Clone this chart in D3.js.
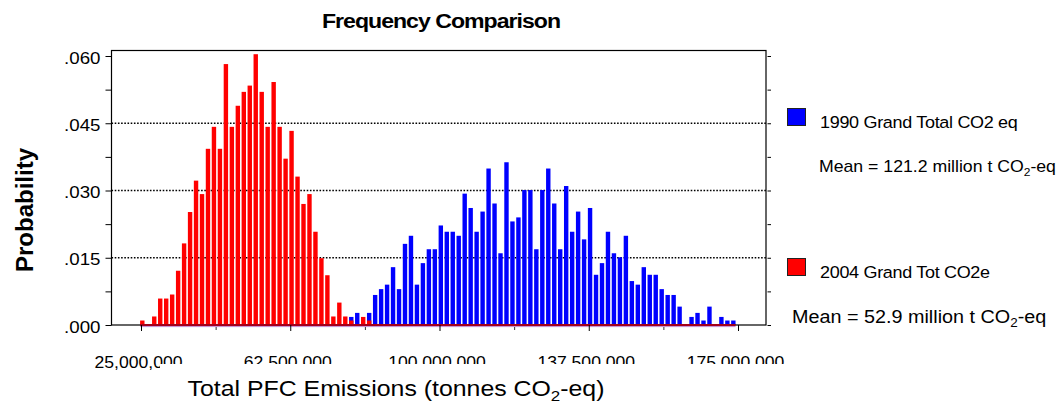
<!DOCTYPE html>
<html>
<head>
<meta charset="utf-8">
<script src="https://cdn.jsdelivr.net/npm/d3@7"></script>
<style>
  body { margin: 0; background: #fff; }
  svg { display: block; font-family: "Liberation Sans", Arial, sans-serif; }
</style>
</head>
<body>
<svg id="chart" width="1063" height="403"></svg>
<script>
// Histogram bins (tonnes CO2-eq): first bin centre and bin width
const binFirst = 25.33e6;
const binStep = 1.5e6;
const binCount = 100;

// 2004 Grand Tot CO2e — probability per bin, starting at bin 0
const red2004Start = 0;
const red2004 = [
  0.001, 0, 0.0019, 0.0059, 0.0059, 0.0068, 0.0121, 0.0182, 0.0252, 0.0322,
  0.0292, 0.0393, 0.0442, 0.0393, 0.0582, 0.0442, 0.0489, 0.052, 0.0534, 0.0604,
  0.052, 0.0442, 0.0542, 0.0442, 0.0371, 0.0433, 0.0331, 0.027, 0.0292, 0.0208,
  0.0149, 0.0111, 0.0019, 0.005, 0.0019, 0.001, 0, 0.0018, 0.001
];

// 1990 Grand Total CO2 eq — probability per bin, starting at bin 35
const blue1990Start = 35;
const blue1990 = [
  0.0018, 0.0027, 0, 0.0027, 0.0067, 0.008, 0.009, 0.0129, 0.008, 0.0181,
  0.0199, 0.009, 0.0138, 0.0169, 0.0169, 0.0222, 0.0208, 0.0208, 0.0199, 0.0293,
  0.0261, 0.0208, 0.0253, 0.0349, 0.0271, 0.016, 0.0363, 0.0231, 0.024, 0.0301,
  0.0301, 0.0169, 0.0301, 0.0349, 0.0271, 0.0169, 0.031, 0.0208, 0.0253, 0.0191,
  0.0261, 0.0112, 0.0138, 0.0208, 0.016, 0.0151, 0.0199, 0.0098, 0.009, 0.0129,
  0.0112, 0.0112, 0.008, 0.0067, 0.0067, 0.0041, 0, 0.0018, 0.0027, 0.001,
  0.0041, 0, 0.0018, 0.001, 0.001
];

const xMajorTicks = [25e6, 62.5e6, 100e6, 137.5e6, 175e6];
const xMinorTicks = [43.75e6, 81.25e6, 118.75e6, 156.25e6];
const yMajorTicks = [0, 0.015, 0.03, 0.045, 0.06];
const yMinorTicks = [0.0075, 0.0225, 0.0375, 0.0525];
const gridValues = [0.015, 0.03, 0.045];

const legendNames = ["1990 Grand Total CO2 eq", "2004 Grand Tot CO2e"];
const legendMeans = ["121.2", "52.9"];
const legendColors = ["#0000ff", "#ff0000"];

const svg = d3.select("#chart");

// plot frame
const plotLeft = 111.5, plotRight = 766, plotTop = 50.5, plotBottom = 325;

const x = d3.scaleLinear().domain([25e6, 175e6]).range([141, 738]);
const y = d3.scaleLinear().domain([0, 0.06]).range([325, 56]);

const binCentre = i => binFirst + i * binStep;
const barW = 4.4;

function toBins(values, start) {
  return values.map((p, k) => ({ bin: start + k, p }));
}

// title
svg.append("text")
  .attr("transform", "translate(441,28) scale(1.1,1)")
  .attr("text-anchor", "middle")
  .attr("font-weight", "bold")
  .attr("font-size", 21)
  .attr("letter-spacing", -0.9)
  .text("Frequency Comparison");

// dotted gridlines
svg.append("g").selectAll("line").data(gridValues).join("line")
  .attr("x1", plotLeft).attr("x2", plotRight)
  .attr("y1", d => y(d)).attr("y2", d => y(d))
  .attr("stroke", "#000").attr("stroke-width", 1.7)
  .attr("stroke-dasharray", "1.6,1.6");

// bars: 1990 behind, 2004 in front
const bars = svg.append("g");
bars.append("g").selectAll("rect").data(toBins(blue1990, blue1990Start).filter(d => d.p > 0)).join("rect")
  .attr("x", d => x(binCentre(d.bin)) - barW / 2)
  .attr("width", barW)
  .attr("y", d => y(d.p))
  .attr("height", d => y(0) - y(d.p))
  .attr("fill", legendColors[0]);
bars.append("g").selectAll("rect").data(toBins(red2004, red2004Start).filter(d => d.p > 0)).join("rect")
  .attr("x", d => x(binCentre(d.bin)) - barW / 2)
  .attr("width", barW)
  .attr("y", d => y(d.p))
  .attr("height", d => y(0) - y(d.p))
  .attr("fill", legendColors[1]);

// frame
svg.append("rect")
  .attr("x", plotLeft).attr("y", plotTop)
  .attr("width", plotRight - plotLeft).attr("height", plotBottom - plotTop)
  .attr("fill", "none").attr("stroke", "#000").attr("stroke-width", 1.2);

// zero-height bins of both series drawn along the baseline
const firstX = x(binCentre(0)) - barW / 2, lastX = x(binCentre(binCount - 1)) + barW / 2;
svg.append("line")
  .attr("x1", firstX).attr("x2", lastX)
  .attr("y1", y(0) + 1.6).attr("y2", y(0) + 1.6)
  .attr("stroke", "#c48ad0").attr("stroke-width", 1);
svg.append("line")
  .attr("x1", firstX).attr("x2", lastX)
  .attr("y1", y(0)).attr("y2", y(0))
  .attr("stroke", "#a3001c").attr("stroke-width", 2.2);

// left axis
const fmtY = v => d3.format(".3f")(v).replace(/^0/, "");
const yAxisL = svg.append("g")
  .attr("transform", `translate(${plotLeft},0)`)
  .call(d3.axisLeft(y).tickValues(yMajorTicks.concat(yMinorTicks)).tickSize(6)
    .tickFormat(d => yMajorTicks.includes(d) ? fmtY(d) : ""));
yAxisL.select(".domain").remove();
yAxisL.selectAll("line").attr("stroke", "#000");
yAxisL.selectAll("text")
  .attr("x", null).attr("dy", null)
  .attr("transform", "translate(-11,7) scale(1.17,1)")
  .attr("text-anchor", "end")
  .attr("font-family", null)
  .attr("font-size", 16)
  .attr("fill", "#000");

// right axis ticks
const yAxisR = svg.append("g")
  .attr("transform", `translate(${plotRight + 1.5},0)`)
  .call(d3.axisRight(y).tickValues(yMajorTicks.concat(yMinorTicks)).tickSize(3.5).tickFormat(""));
yAxisR.select(".domain").remove();
yAxisR.selectAll("line").attr("stroke", "#000");

// bottom axis
const xAxis = svg.append("g")
  .attr("transform", `translate(0,${plotBottom})`)
  .call(d3.axisBottom(x).tickValues(xMajorTicks).tickSize(6).tickFormat(d3.format(",")));
xAxis.select(".domain").remove();
xAxis.selectAll("line").attr("stroke", "#000");
xAxis.selectAll("text")
  .attr("y", null).attr("dy", null)
  .attr("transform", "translate(-3,42.5) scale(1.1,1)")
  .attr("font-family", null)
  .attr("font-size", 16)
  .attr("fill", "#000");

const xAxisMinor = svg.append("g")
  .attr("transform", `translate(0,${plotBottom + 2})`)
  .call(d3.axisBottom(x).tickValues(xMinorTicks).tickSize(3).tickFormat(""));
xAxisMinor.select(".domain").remove();
xAxisMinor.selectAll("line").attr("stroke", "#333");

// x-axis title on its own white box
svg.append("rect")
  .attr("x", 160).attr("y", 364).attr("width", 630).attr("height", 39)
  .attr("fill", "#fff");
const xTitle = svg.append("text")
  .attr("transform", "translate(396,396) scale(1.13,1)")
  .attr("text-anchor", "middle")
  .attr("font-size", 22);
xTitle.append("tspan").text("Total PFC Emissions (tonnes CO");
xTitle.append("tspan").attr("font-size", 15).attr("dy", 5).text("2");
xTitle.append("tspan").attr("dy", -5).text("-eq)");

// y-axis title
svg.append("text")
  .attr("transform", "translate(33,210) rotate(-90)")
  .attr("text-anchor", "middle")
  .attr("font-weight", "bold")
  .attr("font-size", 24)
  .text("Probability");

// legend
const legendTop = [108.5, 258.5];
const legend = svg.append("g");
legendNames.forEach((name, i) => {
  legend.append("rect")
    .attr("x", 787.5).attr("y", legendTop[i])
    .attr("width", 18).attr("height", 17)
    .attr("fill", legendColors[i]).attr("stroke", "#222").attr("stroke-width", 1);
  legend.append("text")
    .attr("transform", `translate(820,${legendTop[i] + 19}) scale(1.06,1)`)
    .attr("font-size", 17)
    .attr("letter-spacing", -0.3)
    .text(name);
});
const meanPos = [{ x: 819, y: 171.5, size: 17, sx: 1.04 }, { x: 792, y: 323, size: 18.5, sx: 1.07 }];
legendMeans.forEach((m, i) => {
  const p = meanPos[i];
  const t = legend.append("text")
    .attr("transform", `translate(${p.x},${p.y}) scale(${p.sx},1)`)
    .attr("font-size", p.size);
  t.append("tspan").text(`Mean = ${m} million t CO`);
  t.append("tspan").attr("font-size", p.size * 0.68).attr("dy", 4).text("2");
  t.append("tspan").attr("dy", -4).text("-eq");
});
</script>
</body>
</html>
